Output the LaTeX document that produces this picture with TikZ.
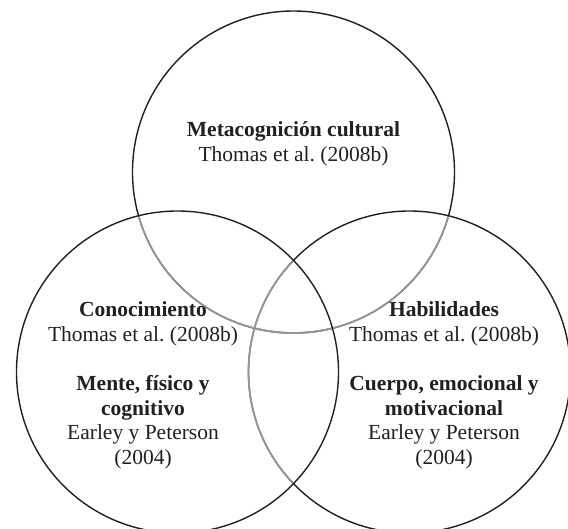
\documentclass[tikz,border=0pt]{standalone}
\usepackage{fontspec}
\setmainfont{Liberation Serif}
\frenchspacing
\definecolor{ink}{RGB}{35,31,32}
\definecolor{hidden}{RGB}{150,150,150}
\begin{document}
\begin{tikzpicture}[x=1pt,y=-1pt,
  ring/.style={draw=ink,line width=1.4pt},
  behind/.style={draw=hidden,line width=1.7pt},
  label/.style={text=ink,align=center,inner sep=0pt,anchor=base,
    font=\fontsize{21.5}{24.7}\selectfont}]
\useasboundingbox (0,0) rectangle (568,528);
\clip (0,0) rectangle (568,528);
\def\R{161}
\coordinate (ct) at (293.5,172);
\coordinate (cl) at (177.5,372);
\coordinate (cr) at (409.5,372);

% top circle, greyed where it lies under the two lower circles
\draw[ring] (ct) circle[radius=\R];
\begin{scope}
  \clip (cl) circle[radius=\R];
  \draw[behind] (ct) circle[radius=\R];
\end{scope}
\begin{scope}
  \clip (cr) circle[radius=\R];
  \draw[behind] (ct) circle[radius=\R];
\end{scope}

% right circle, greyed where it lies under the left one
\draw[ring] (cr) circle[radius=\R];
\begin{scope}
  \clip (cl) circle[radius=\R];
  \draw[behind] (cr) circle[radius=\R];
\end{scope}

% left circle on top
\draw[ring] (cl) circle[radius=\R];

% labels (anchored at the baseline of their last line)
\node[label] (meta) at (293.5,161.2) {\textbf{Metacognición cultural}\\Thomas et al. (2008b)};
\node[label] (cono) at (143,341.4) {\textbf{Conocimiento}\\Thomas et al. (2008b)};
\node[label] (mente) at (143,464.5) {\textbf{Mente, físico y}\\\textbf{cognitivo}\\Earley y Peterson\\(2004)};
\node[label] (habi) at (444,341.4) {\textbf{Habilidades}\\Thomas et al. (2008b)};
\node[label] (cuerpo) at (444,464.5) {\textbf{Cuerpo, emocional y}\\\textbf{motivacional}\\Earley y Peterson\\(2004)};
\end{tikzpicture}
\end{document}
